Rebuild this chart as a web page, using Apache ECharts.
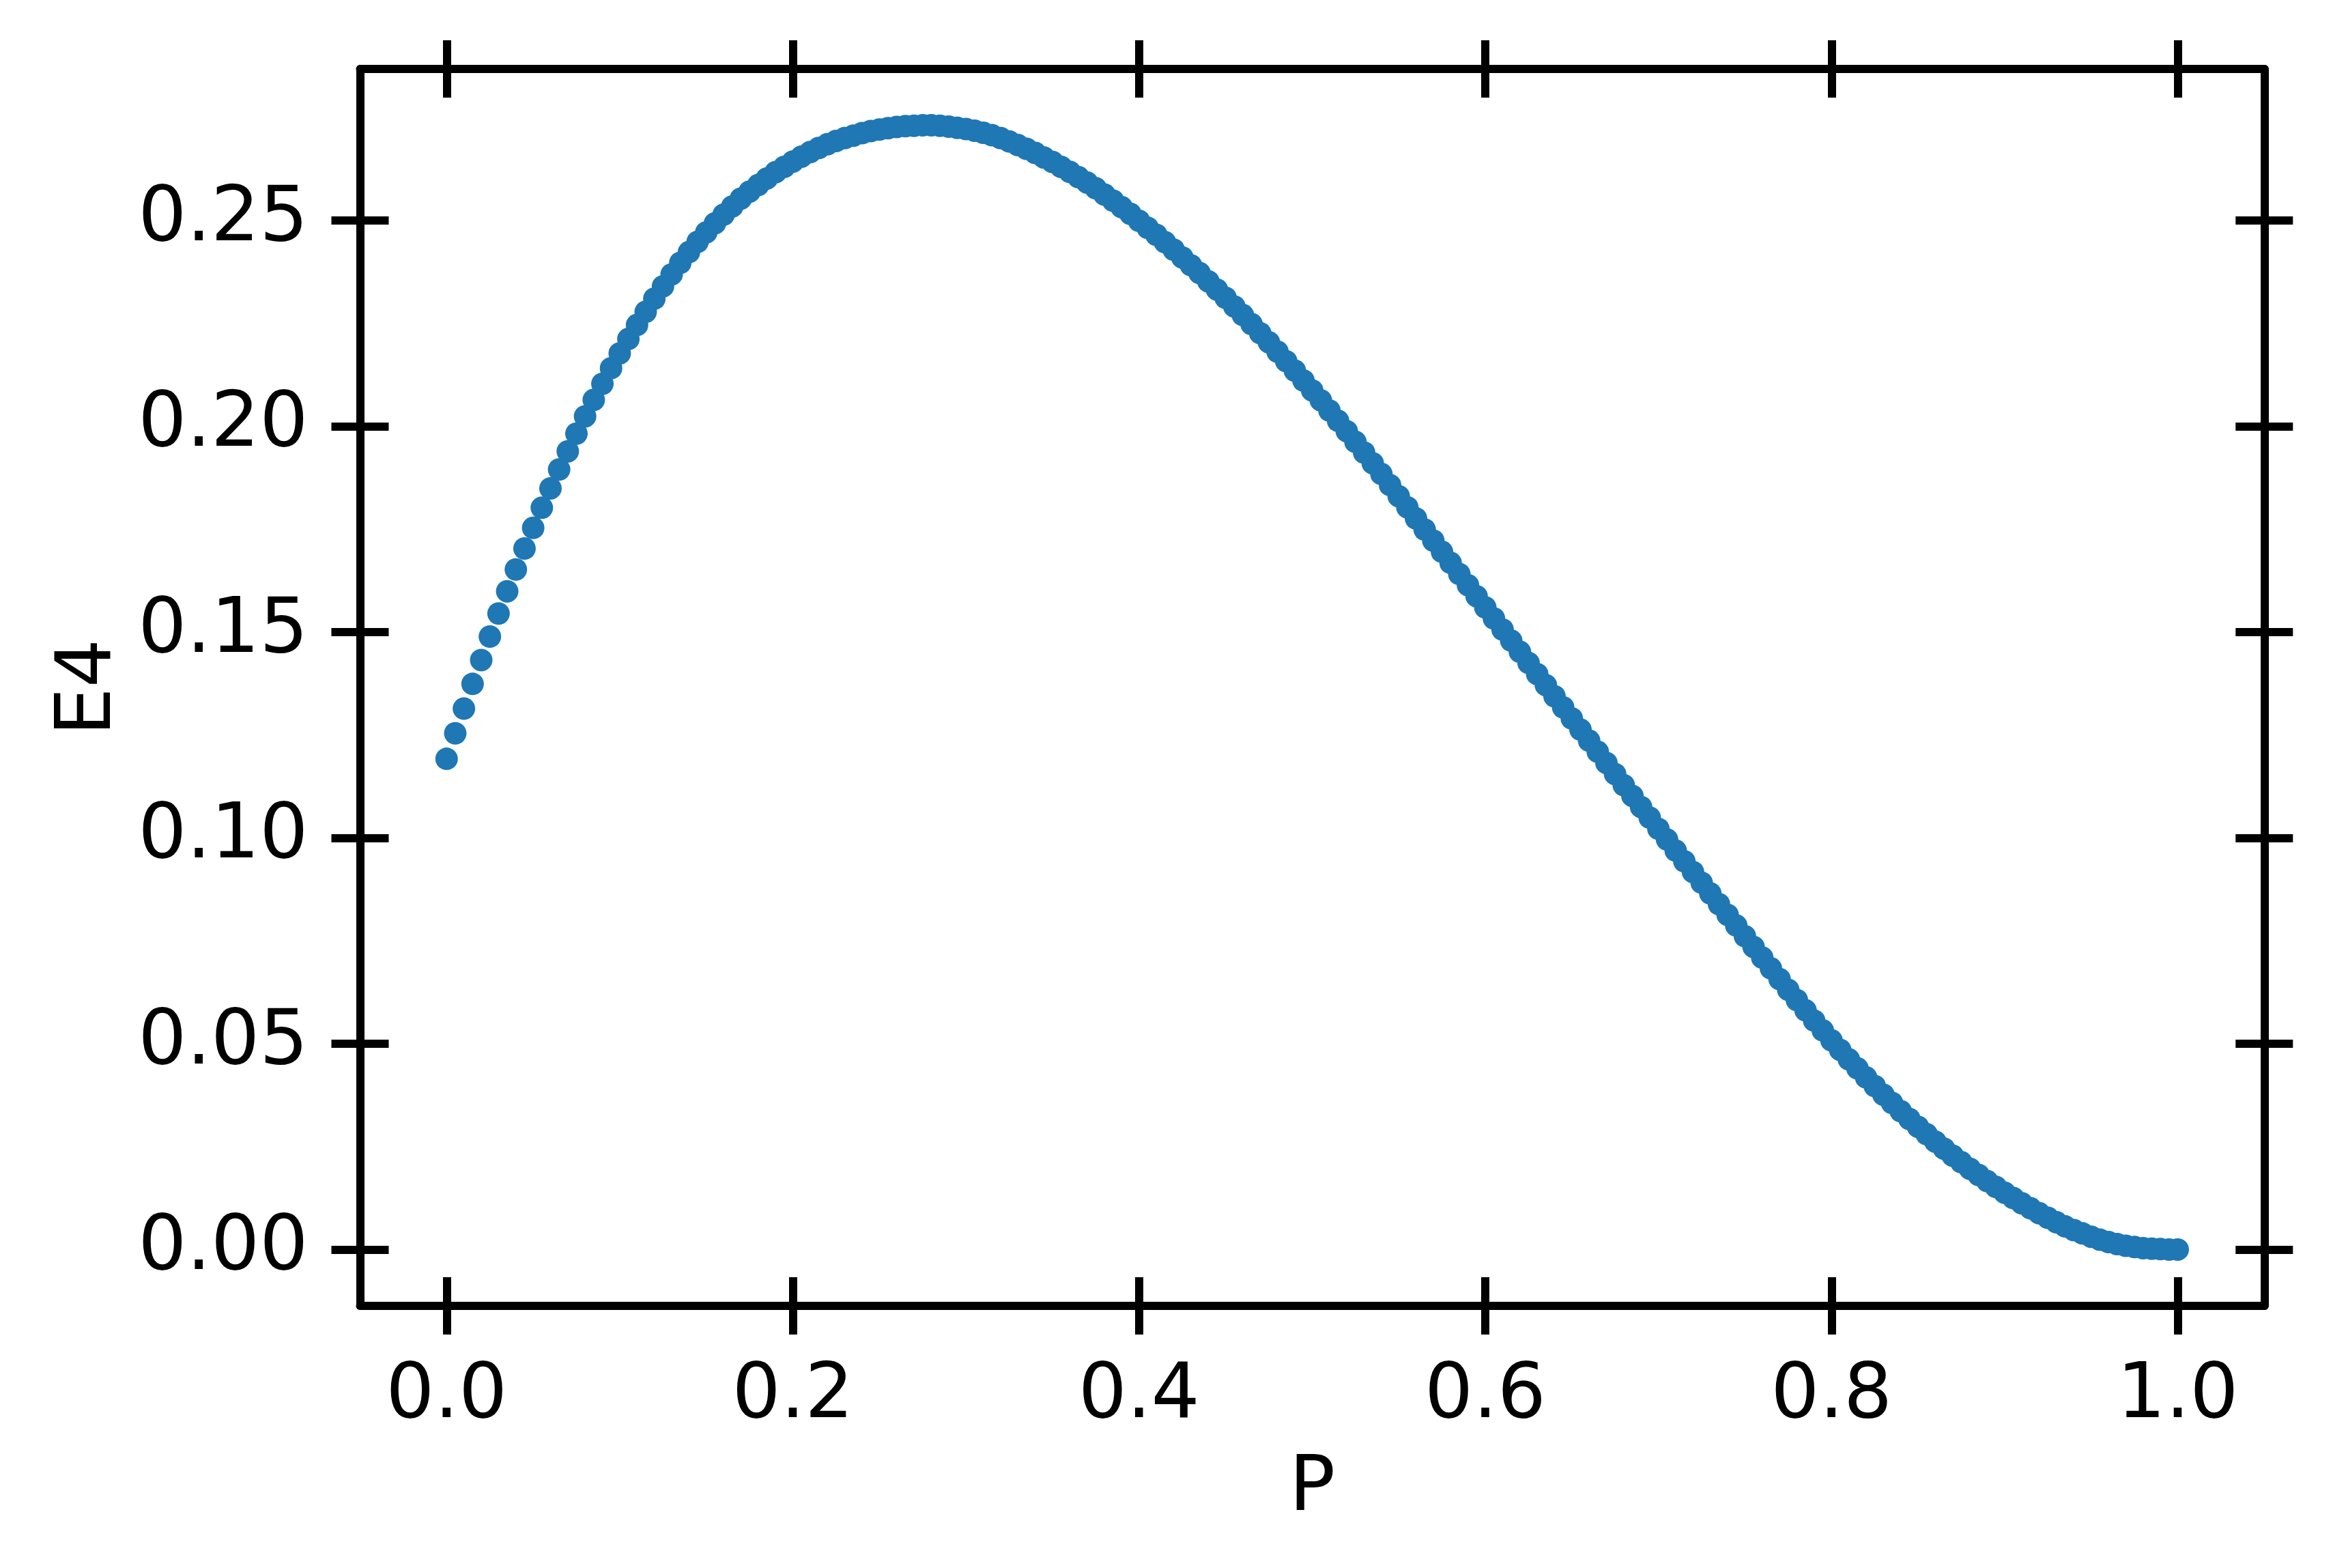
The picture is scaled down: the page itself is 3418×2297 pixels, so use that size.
<!DOCTYPE html>
<html>
<head>
<meta charset="utf-8">
<script src="https://cdn.jsdelivr.net/npm/echarts@6/dist/echarts.min.js"></script>
<style>
html,body{margin:0;padding:0;background:#fff;}
#chart{width:3418px;height:2297px;}
</style>
</head>
<body>
<div id="chart"></div>
<script>
// ---- data ----
const P = [
0,0.005,0.01,0.015,0.02,0.025,0.03,0.035,0.04,0.045,
0.05,0.055,0.06,0.065,0.07,0.075,0.08,0.085,0.09,0.095,
0.1,0.105,0.11,0.115,0.12,0.125,0.13,0.135,0.14,0.145,
0.15,0.155,0.16,0.165,0.17,0.175,0.18,0.185,0.19,0.195,
0.2,0.205,0.21,0.215,0.22,0.225,0.23,0.235,0.24,0.245,
0.25,0.255,0.26,0.265,0.27,0.275,0.28,0.285,0.29,0.295,
0.3,0.305,0.31,0.315,0.32,0.325,0.33,0.335,0.34,0.345,
0.35,0.355,0.36,0.365,0.37,0.375,0.38,0.385,0.39,0.395,
0.4,0.405,0.41,0.415,0.42,0.425,0.43,0.435,0.44,0.445,
0.45,0.455,0.46,0.465,0.47,0.475,0.48,0.485,0.49,0.495,
0.5,0.505,0.51,0.515,0.52,0.525,0.53,0.535,0.54,0.545,
0.55,0.555,0.56,0.565,0.57,0.575,0.58,0.585,0.59,0.595,
0.6,0.605,0.61,0.615,0.62,0.625,0.63,0.635,0.64,0.645,
0.65,0.655,0.66,0.665,0.67,0.675,0.68,0.685,0.69,0.695,
0.7,0.705,0.71,0.715,0.72,0.725,0.73,0.735,0.74,0.745,
0.75,0.755,0.76,0.765,0.77,0.775,0.78,0.785,0.79,0.795,
0.8,0.805,0.81,0.815,0.82,0.825,0.83,0.835,0.84,0.845,
0.85,0.855,0.86,0.865,0.87,0.875,0.88,0.885,0.89,0.895,
0.9,0.905,0.91,0.915,0.92,0.925,0.93,0.935,0.94,0.945,
0.95,0.955,0.96,0.965,0.97,0.975,0.98,0.985,0.99,0.995,
1.0
];
const E4 = [
0.1192,0.1254,0.1314,0.1374,0.1432,0.1489,0.1545,0.1599,0.1652,0.1703,
0.1753,0.1802,0.1849,0.1895,0.1939,0.1982,0.2024,0.2064,0.2103,0.2141,
0.2177,0.2212,0.2246,0.2278,0.2310,0.2340,0.2369,0.2397,0.2423,0.2448,
0.2471,0.2493,0.2514,0.2534,0.2553,0.2570,0.2586,0.2602,0.2617,0.2630,
0.2643,0.2655,0.2666,0.2676,0.2685,0.2693,0.2700,0.2706,0.2712,0.2717,
0.2721,0.2724,0.2727,0.2729,0.2730,0.2731,0.2731,0.2730,0.2728,0.2725,
0.2722,0.2718,0.2713,0.2707,0.2700,0.2692,0.2683,0.2674,0.2664,0.2653,
0.2642,0.2630,0.2618,0.2605,0.2592,0.2578,0.2563,0.2548,0.2532,0.2516,
0.2499,0.2482,0.2465,0.2447,0.2429,0.2410,0.2391,0.2372,0.2352,0.2332,
0.2312,0.2291,0.2270,0.2248,0.2226,0.2204,0.2181,0.2158,0.2135,0.2111,
0.2087,0.2063,0.2038,0.2013,0.1988,0.1962,0.1936,0.1910,0.1884,0.1857,
0.1830,0.1803,0.1776,0.1749,0.1722,0.1695,0.1668,0.1641,0.1614,0.1587,
0.1560,0.1533,0.1506,0.1479,0.1452,0.1425,0.1398,0.1371,0.1344,0.1317,
0.1290,0.1263,0.1236,0.1209,0.1182,0.1155,0.1128,0.1102,0.1075,0.1049,
0.1022,0.0996,0.0969,0.0943,0.0917,0.0891,0.0865,0.0839,0.0813,0.0787,
0.0761,0.0735,0.0709,0.0683,0.0657,0.0631,0.0606,0.0581,0.0556,0.0532,
0.0508,0.0485,0.0462,0.0440,0.0418,0.0397,0.0376,0.0356,0.0336,0.0317,
0.0298,0.0280,0.0262,0.0245,0.0228,0.0212,0.0196,0.0181,0.0166,0.0152,
0.0138,0.0125,0.0112,0.0100,0.0088,0.0077,0.0066,0.0056,0.0047,0.0039,
0.0031,0.0024,0.0018,0.0013,0.0009,0.0006,0.0003,0.0002,0.0001,0.0000,
0.0000
];
const xTicks = [0.0, 0.2, 0.4, 0.6, 0.8, 1.0];
const yTicks = [0.00, 0.05, 0.10, 0.15, 0.20, 0.25];
const xName = 'P';
const yName = 'E4';

// ---- chart ----
const FONT = 'DejaVu Sans';
const X_MIN = -0.05, X_MAX = 1.05;
const Y_MIN = -0.0137, Y_MAX = 0.2868;
const LW = 12, TL = 42, FS = 112;

const points = P.map((p, i) => [p, E4[i]]);

function xAxisDef(pos, inside, labels) {
  return {
    type: 'value', position: pos, min: X_MIN, max: X_MAX,
    axisLine: {show: !inside, onZero: false, lineStyle: {color: '#000', width: LW}},
    axisTick: {show: true, inside: inside, length: TL, customValues: xTicks,
               lineStyle: {color: '#000', width: LW}},
    axisLabel: {show: labels, customValues: xTicks, fontFamily: FONT, fontSize: FS,
                color: '#000', margin: 78, formatter: v => Number(v).toFixed(1)},
    splitLine: {show: false},
    name: labels ? xName : '', nameLocation: 'middle', nameGap: 214,
    nameTextStyle: {fontFamily: FONT, fontSize: FS, color: '#000'}
  };
}
function yAxisDef(pos, inside, labels) {
  return {
    type: 'value', position: pos, min: Y_MIN, max: Y_MAX,
    axisLine: {show: !inside, onZero: false, lineStyle: {color: '#000', width: LW}},
    axisTick: {show: true, inside: inside, length: TL, customValues: yTicks,
               lineStyle: {color: '#000', width: LW}},
    axisLabel: {show: labels, customValues: yTicks, fontFamily: FONT, fontSize: FS,
                color: '#000', margin: 76, formatter: v => Number(v).toFixed(2)},
    splitLine: {show: false},
    name: labels ? yName : '', nameLocation: 'middle', nameGap: 340,
    nameTextStyle: {fontFamily: FONT, fontSize: FS, color: '#000'}
  };
}

const chart = echarts.init(document.getElementById('chart'), null, {renderer: 'canvas'});
chart.setOption({
  animation: false,
  backgroundColor: '#ffffff',
  grid: {left: 527.5, right: 100.7, top: 101, bottom: 384, containLabel: false},
  xAxis: [
    xAxisDef('bottom', false, true),
    xAxisDef('bottom', true, false),
    xAxisDef('top', false, false),
    xAxisDef('top', true, false)
  ],
  yAxis: [
    yAxisDef('left', false, true),
    yAxisDef('left', true, false),
    yAxisDef('right', false, false),
    yAxisDef('right', true, false)
  ],
  series: [{
    type: 'scatter',
    xAxisIndex: 0, yAxisIndex: 0,
    data: points,
    symbol: 'circle',
    symbolSize: 33,
    itemStyle: {color: '#1f77b4', opacity: 1},
    emphasis: {disabled: true},
    silent: true
  }]
});
</script>
</body>
</html>
